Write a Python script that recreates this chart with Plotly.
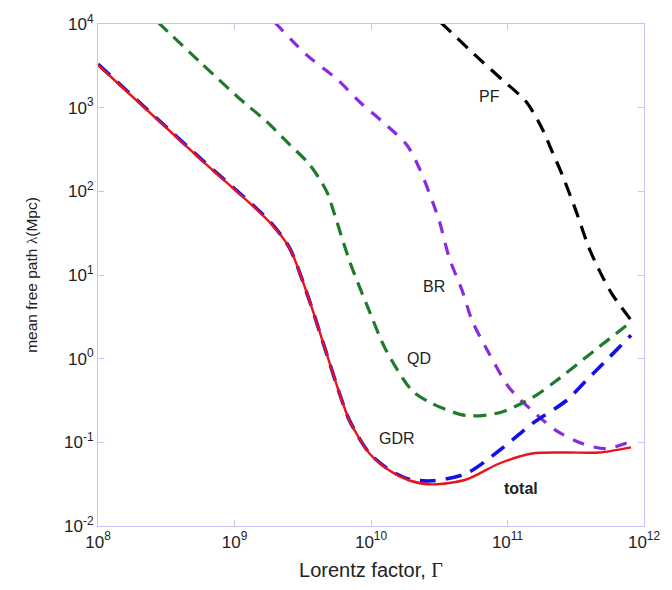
import numpy as np
import plotly.graph_objects as go

# log10(Lorentz factor) and log10(mean free path / Mpc)
total_lx = [8.0, 8.746, 9.258, 9.404, 9.550, 9.645, 9.770, 9.843, 9.989, 10.135,
            10.282, 10.450, 10.698, 10.940, 11.181, 11.430, 11.671, 11.905]
total_ly = [3.51, 2.39, 1.63, 1.32, 0.689, 0.212, -0.419, -0.741, -1.134, -1.337,
            -1.456, -1.503, -1.444, -1.253, -1.134, -1.122, -1.122, -1.06]

gdr_lx = [8.0, 8.746, 9.258, 9.404, 9.550, 9.645, 9.770, 9.843, 9.989, 10.135,
          10.282, 10.450, 10.698, 10.940, 11.181, 11.430, 11.576, 11.905]
gdr_ly = [3.52, 2.40, 1.64, 1.32, 0.689, 0.212, -0.419, -0.741, -1.130, -1.330,
          -1.440, -1.460, -1.372, -1.098, -0.777, -0.503, -0.264, 0.28]

qd_lx = [8.44, 8.746, 9.038, 9.236, 9.404, 9.550, 9.675, 9.733, 9.843, 9.967,
         10.113, 10.303, 10.450, 10.698, 10.940, 11.181, 11.357, 11.634, 11.905]
qd_ly = [4.02, 3.547, 3.107, 2.833, 2.559, 2.320, 1.999, 1.725, 1.165, 0.653,
         0.093, -0.384, -0.538, -0.681, -0.646, -0.467, -0.264, 0.093, 0.44]

br_lx = [9.295, 9.528, 9.748, 9.916, 10.084, 10.260, 10.355, 10.450, 10.501, 10.574,
         10.669, 10.742, 10.867, 11.013, 11.181, 11.357, 11.547, 11.722, 11.905]
br_ly = [4.02, 3.631, 3.345, 3.071, 2.833, 2.559, 2.273, 1.880, 1.641, 1.201,
         0.808, 0.450, 0.057, -0.348, -0.622, -0.860, -1.015, -1.075, -0.99]

pf_lx = [10.51, 10.793, 10.962, 11.137, 11.254, 11.327, 11.400, 11.503, 11.598,
         11.686, 11.766, 11.905]
pf_ly = [4.02, 3.583, 3.333, 3.071, 2.749, 2.475, 2.201, 1.761, 1.320,
         1.010, 0.772, 0.46]

x_tickvals = [1e8, 1e9, 1e10, 1e11, 1e12]
x_ticktext = ["10<sup>8</sup>", "10<sup>9</sup>", "10<sup>10</sup>", "10<sup>11</sup>", "10<sup>12</sup>"]
y_tickvals = [1e-2, 1e-1, 1e0, 1e1, 1e2, 1e3, 1e4]
y_ticktext = ["10<sup>-2</sup>", "10<sup>-1</sup>", "10<sup>0</sup>", "10<sup>1</sup>",
              "10<sup>2</sup>", "10<sup>3</sup>", "10<sup>4</sup>"]

labels = ["PF", "BR", "QD", "GDR", "<b>total</b>"]
label_lx = [10.867, 10.464, 10.355, 10.194, 11.10]
label_ly = [3.13, 0.867, 0.0, -0.955, -1.551]

FONT = "Liberation Sans, Arial, sans-serif"

def p(v):
    return np.power(10.0, np.array(v))

fig = go.Figure()
fig.add_trace(go.Scatter(x=p(pf_lx), y=p(pf_ly), mode="lines",
                         line=dict(color="#000000", width=3.2, dash="14px,9px", shape="spline", smoothing=0.8)))
fig.add_trace(go.Scatter(x=p(br_lx), y=p(br_ly), mode="lines",
                         line=dict(color="#8a2be2", width=3.2, dash="12px,10px", shape="spline", smoothing=0.8)))
fig.add_trace(go.Scatter(x=p(qd_lx), y=p(qd_ly), mode="lines",
                         line=dict(color="#1f7a2b", width=3.2, dash="13px,8px", shape="spline", smoothing=0.8)))
fig.add_trace(go.Scatter(x=p(gdr_lx), y=p(gdr_ly), mode="lines",
                         line=dict(color="#1010e8", width=3.6, dash="16px,10px", shape="spline", smoothing=0.8)))
fig.add_trace(go.Scatter(x=p(total_lx), y=p(total_ly), mode="lines",
                         line=dict(color="#e8141c", width=2.4, shape="spline", smoothing=0.8)))

for t, lx, ly in zip(labels, label_lx, label_ly):
    fig.add_annotation(x=lx, y=ly, xref="x", yref="y", text=t, showarrow=False,
                       font=dict(family=FONT, size=16, color="#222222"))

axis_col = "#c4c4f6"
fig.update_xaxes(type="log", range=[8, 12], tickvals=x_tickvals, ticktext=x_ticktext,
                 showgrid=False, zeroline=False, showline=True, linecolor=axis_col, linewidth=1.2,
                 mirror="ticks", ticks="inside", ticklen=6, tickcolor=axis_col, tickwidth=1.2,
                 tickfont=dict(family=FONT, size=17, color="#222222"),
                 title=dict(text="Lorentz factor, <span style=\"font-family:'Liberation Serif'\">Γ</span>",
                            standoff=12, font=dict(family=FONT, size=20, color="#222222")))
fig.update_yaxes(type="log", range=[-2, 4], tickvals=y_tickvals, ticktext=y_ticktext,
                 showgrid=False, zeroline=False, showline=True, linecolor=axis_col, linewidth=1.2,
                 mirror="ticks", ticks="inside", ticklen=6, tickcolor=axis_col, tickwidth=1.2,
                 tickfont=dict(family=FONT, size=17, color="#222222"),
                 title=dict(text="mean free path <span style=\"font-family:'Liberation Serif'\">λ</span>(Mpc)",
                            standoff=22, font=dict(family=FONT, size=15.5, color="#222222")))

fig.update_layout(width=672, height=590, showlegend=False,
                  margin=dict(l=98, r=27, t=22, b=64, pad=0),
                  paper_bgcolor="#ffffff", plot_bgcolor="#ffffff")

fig.write_html("out.html")
